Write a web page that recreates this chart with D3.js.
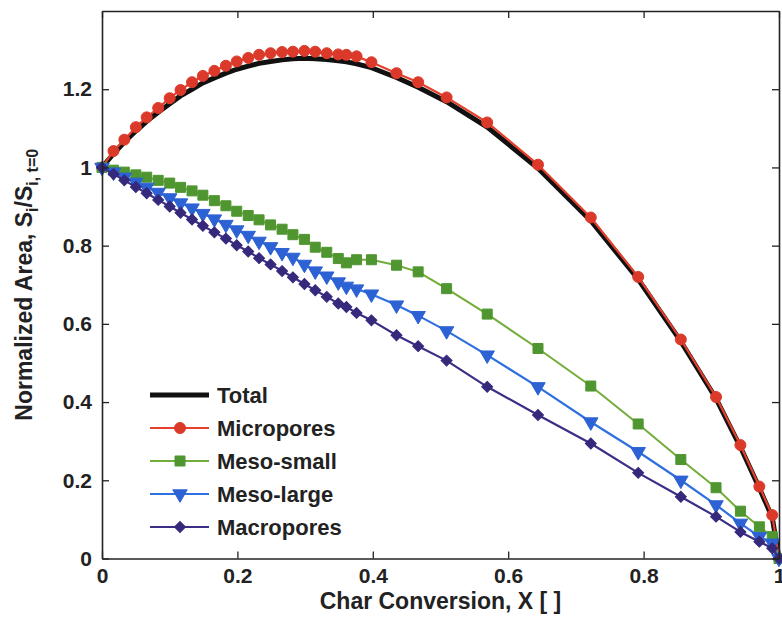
<!DOCTYPE html>
<html>
<head>
<meta charset="utf-8">
<script src="https://cdn.jsdelivr.net/npm/d3@7"></script>
<style>
  body { margin: 0; background: #fff; }
  svg text { font-family: "Liberation Sans", Arial, sans-serif; font-weight: bold; fill: #222; }
</style>
</head>
<body>
<svg id="chart"></svg>
<script>
// conversion values where every series was sampled
const conversion = [0, 0.017, 0.033, 0.050, 0.066, 0.083, 0.100, 0.116, 0.133, 0.149, 0.166,
  0.183, 0.199, 0.216, 0.232, 0.249, 0.266, 0.282, 0.299, 0.315, 0.332, 0.349,
  0.361, 0.376, 0.398, 0.435, 0.467, 0.509, 0.569, 0.644, 0.722, 0.792, 0.855,
  0.907, 0.943, 0.971, 0.990, 1.0];

const total = [1.0, 1.035, 1.065, 1.093, 1.118, 1.141, 1.163, 1.183, 1.200, 1.216, 1.229,
  1.241, 1.251, 1.259, 1.266, 1.271, 1.275, 1.278, 1.279, 1.278, 1.276, 1.273,
  1.270, 1.265, 1.255, 1.230, 1.205, 1.168, 1.103, 0.998, 0.864, 0.714, 0.555,
  0.409, 0.285, 0.180, 0.105, 0.0];

const micropores = [1.0, 1.042, 1.071, 1.103, 1.128, 1.152, 1.177, 1.198, 1.218, 1.234, 1.247,
  1.260, 1.271, 1.280, 1.288, 1.292, 1.295, 1.296, 1.298, 1.296, 1.292, 1.289,
  1.288, 1.284, 1.269, 1.241, 1.218, 1.179, 1.115, 1.007, 0.872, 0.720, 0.560,
  0.413, 0.290, 0.184, 0.111, 0.0];

const mesoSmall = [1.0, 0.993, 0.988, 0.981, 0.975, 0.967, 0.960, 0.949, 0.940, 0.929, 0.915,
  0.902, 0.888, 0.877, 0.866, 0.853, 0.842, 0.828, 0.816, 0.796, 0.783, 0.767,
  0.756, 0.764, 0.764, 0.750, 0.733, 0.690, 0.625, 0.537, 0.441, 0.344, 0.253,
  0.181, 0.121, 0.081, 0.056, 0.0];

const mesoLarge = [1.0, 0.988, 0.975, 0.962, 0.949, 0.936, 0.922, 0.909, 0.896, 0.882, 0.868,
  0.854, 0.840, 0.826, 0.811, 0.797, 0.782, 0.770, 0.752, 0.735, 0.722, 0.707,
  0.696, 0.689, 0.676, 0.648, 0.621, 0.582, 0.520, 0.439, 0.349, 0.273, 0.200,
  0.137, 0.090, 0.056, 0.039, 0.0];

const macropores = [1.0, 0.983, 0.967, 0.950, 0.934, 0.917, 0.900, 0.884, 0.867, 0.851, 0.834,
  0.818, 0.801, 0.785, 0.768, 0.752, 0.735, 0.719, 0.702, 0.686, 0.669, 0.652,
  0.643, 0.628, 0.609, 0.571, 0.543, 0.506, 0.439, 0.367, 0.294, 0.219, 0.158,
  0.107, 0.068, 0.043, 0.026, 0.0];

const xTicks = [0, 0.2, 0.4, 0.6, 0.8, 1];
const yTicks = [0, 0.2, 0.4, 0.6, 0.8, 1, 1.2];

const seriesNames = ['Total', 'Micropores', 'Meso-small', 'Meso-large', 'Macropores'];

const styles = [
  { values: total, line: '#111', width: 5, marker: null },
  { values: micropores, line: '#e5402c', fill: '#db3a2a', width: 2.2, marker: 'circle' },
  { values: mesoSmall, line: '#72ad3a', fill: '#4f9630', width: 2, marker: 'square' },
  { values: mesoLarge, line: '#2f6fe0', fill: '#2d62d4', width: 2.2, marker: 'triangle' },
  { values: macropores, line: '#3a2e86', fill: '#35297c', width: 2.2, marker: 'diamond' },
];

const W = 782, H = 620;
const margin = { top: 11, right: 3, bottom: 61.5, left: 102 };
const width = W - margin.left - margin.right;
const height = H - margin.top - margin.bottom;

const svgEl = d3.select('#chart').attr('width', W).attr('height', H);
const svg = svgEl.append('g').attr('transform', `translate(${margin.left},${margin.top})`);

const x = d3.scaleLinear().domain([0, 1]).range([0, width]);
const y = d3.scaleLinear().domain([0, 1.4]).range([height, 0]);

function markerPath(kind) {
  if (kind === 'circle') return d3.symbol(d3.symbolCircle, 95)();
  if (kind === 'square') return d3.symbol(d3.symbolSquare, 100)();
  if (kind === 'triangle') return d3.symbol(d3.symbolTriangle, 90)();
  if (kind === 'diamond') return d3.symbol(d3.symbolSquare, 60)();
  return null;
}
function markerRotate(kind) {
  if (kind === 'triangle') return 180;
  if (kind === 'diamond') return 45;
  return 0;
}

// series
const line = d3.line().x((d) => x(d[0])).y((d) => y(d[1]));

styles.forEach((s) => {
  const pts = conversion.map((c, i) => [c, s.values[i]]);
  svg.append('path')
    .datum(pts)
    .attr('d', line)
    .attr('fill', 'none')
    .attr('stroke', s.line)
    .attr('stroke-width', s.width)
    .attr('stroke-linejoin', 'round');
  if (s.marker) {
    svg.selectAll(null)
      .data(pts)
      .enter()
      .append('path')
      .attr('d', markerPath(s.marker))
      .attr('transform', (d) => `translate(${x(d[0])},${y(d[1])}) rotate(${markerRotate(s.marker)})`)
      .attr('fill', s.fill)
      .attr('stroke', s.fill)
      .attr('stroke-width', 1);
  }
});

// axes, ticks pointing inwards
const axisStyle = (g) => {
  g.select('.domain').attr('stroke', '#222').attr('stroke-width', 1.6);
  g.selectAll('.tick line').attr('stroke', '#222').attr('stroke-width', 1.3);
  g.selectAll('.tick text').attr('fill', '#222').style('font-size', '21px');
};

svg.append('g')
  .attr('transform', `translate(0,${height})`)
  .call(d3.axisBottom(x).tickValues(xTicks).tickSize(-7).tickSizeOuter(0).tickPadding(10)
    .tickFormat(d3.format('~g')))
  .call(axisStyle);

svg.append('g')
  .call(d3.axisTop(x).tickValues(xTicks).tickSize(-7).tickSizeOuter(0).tickFormat(''))
  .call(axisStyle);

svg.append('g')
  .call(d3.axisLeft(y).tickValues(yTicks).tickSize(-7).tickSizeOuter(0).tickPadding(10)
    .tickFormat(d3.format('~g')))
  .call(axisStyle);

svg.append('g')
  .attr('transform', `translate(${width},0)`)
  .call(d3.axisRight(y).tickValues(yTicks).tickSize(-7).tickSizeOuter(0).tickFormat(''))
  .call(axisStyle);

// axis titles
svgEl.append('text')
  .attr('x', margin.left + width / 2)
  .attr('y', 609)
  .attr('text-anchor', 'middle')
  .style('font-size', '23px')
  .text('Char Conversion, X [ ]');

const yTitle = svgEl.append('text')
  .attr('transform', `translate(32,${margin.top + height / 2}) rotate(-90)`)
  .attr('text-anchor', 'middle')
  .style('font-size', '23px');
yTitle.append('tspan').text('Normalized Area, S');
yTitle.append('tspan').attr('dy', 6).style('font-size', '16px').text('i');
yTitle.append('tspan').attr('dy', -6).text('/S');
yTitle.append('tspan').attr('dy', 6).style('font-size', '16px').text('i, t=0');

// legend
const legend = svgEl.append('g').attr('transform', 'translate(150,395)');
const rowGap = 33;
seriesNames.forEach((name, i) => {
  const s = styles[i];
  const row = legend.append('g').attr('transform', `translate(0,${i * rowGap})`);
  row.append('line')
    .attr('x1', 0).attr('x2', 59)
    .attr('stroke', s.line)
    .attr('stroke-width', s.width);
  if (s.marker) {
    row.append('path')
      .attr('d', markerPath(s.marker))
      .attr('transform', `translate(30,0) rotate(${markerRotate(s.marker)})`)
      .attr('fill', s.fill)
      .attr('stroke', s.fill);
  }
  row.append('text')
    .attr('x', 67)
    .attr('y', 8)
    .style('font-size', '22px')
    .text(name);
});
</script>
</body>
</html>
